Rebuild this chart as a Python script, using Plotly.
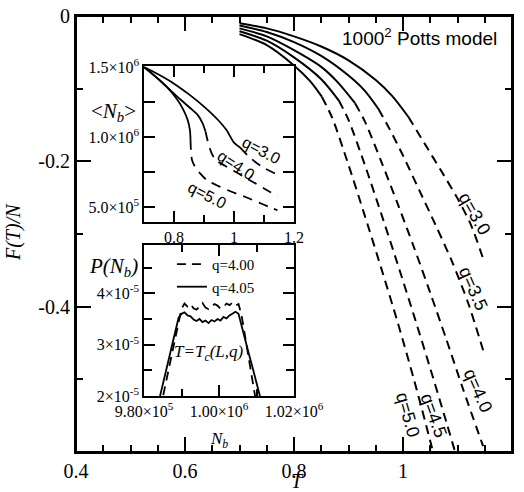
import plotly.graph_objects as go

# ---------------- main panel: F(T)/N vs T ----------------
q_labels_main = ["q=3.0", "q=3.5", "q=4.0", "q=4.5", "q=5.0"]

T_q30_solid = [0.70, 0.75, 0.80, 0.85, 0.90, 0.95, 0.98, 1.01]
F_q30_solid = [-0.010, -0.017, -0.028, -0.042, -0.061, -0.088, -0.110, -0.139]
T_q30_dash = [1.01, 1.04, 1.07, 1.10, 1.125, 1.147]
F_q30_dash = [-0.139, -0.176, -0.213, -0.251, -0.288, -0.334]

T_q35_solid = [0.70, 0.75, 0.80, 0.85, 0.90, 0.93, 0.955]
F_q35_solid = [-0.013, -0.022, -0.036, -0.055, -0.082, -0.103, -0.128]
T_q35_dash = [0.955, 0.975, 1.00, 1.03, 1.06, 1.09, 1.12, 1.147]
F_q35_dash = [-0.128, -0.155, -0.192, -0.240, -0.288, -0.338, -0.396, -0.460]

T_q40_solid = [0.70, 0.75, 0.80, 0.85, 0.88, 0.912]
F_q40_solid = [-0.017, -0.028, -0.047, -0.070, -0.091, -0.120]
T_q40_dash = [0.912, 0.93, 0.96, 0.99, 1.02, 1.05, 1.08, 1.11, 1.147]
F_q40_dash = [-0.120, -0.145, -0.200, -0.258, -0.318, -0.381, -0.446, -0.513, -0.592]

T_q45_solid = [0.70, 0.75, 0.80, 0.85, 0.882]
F_q45_solid = [-0.021, -0.034, -0.057, -0.087, -0.116]
T_q45_dash = [0.882, 0.90, 0.93, 0.96, 0.99, 1.02, 1.05, 1.08, 1.11]
F_q45_dash = [-0.116, -0.143, -0.205, -0.272, -0.341, -0.412, -0.485, -0.560, -0.637]

T_q50_solid = [0.70, 0.75, 0.80, 0.83, 0.851]
F_q50_solid = [-0.025, -0.040, -0.068, -0.090, -0.111]
T_q50_dash = [0.851, 0.87, 0.90, 0.93, 0.96, 0.99, 1.02, 1.05, 1.07]
F_q50_dash = [-0.111, -0.140, -0.205, -0.275, -0.347, -0.421, -0.500, -0.585, -0.645]

# label anchor points (T, F) and angles
label_T_main = [1.132, 1.130, 1.138, 1.057, 1.009]
label_F_main = [-0.272, -0.375, -0.516, -0.550, -0.549]
label_ang_main = [60, 66, 66, 70, 74]

# main-axis ticks
T_major = [0.4, 0.6, 0.8, 1.0, 1.2]
T_major_text = ["0.4", "0.6", "0.8", "1", "1.2"]
T_minor = [0.45, 0.5, 0.55, 0.65, 0.7, 0.75, 0.85, 0.9, 0.95, 1.05, 1.1, 1.15]
F_major = [0, -0.2, -0.4, -0.6]
F_major_text = ["0", "-0.2", "-0.4", ""]
F_minor = [-0.1, -0.3, -0.5]

# ---------------- inset 1: <N_b> vs T ----------------
q_labels_in1 = ["q=3.0", "q=4.0", "q=5.0"]

Ti_q30_solid = [0.70, 0.75, 0.80, 0.85, 0.90, 0.95, 0.975, 1.00, 1.02]
Nb_q30_solid = [1.500e6, 1.445e6, 1.382e6, 1.305e6, 1.218e6, 1.115e6, 1.050e6, 0.960e6, 0.926e6]
Ti_q30_dash = [1.02, 1.045, 1.07, 1.10, 1.125, 1.145]
Nb_q30_dash = [0.926e6, 0.870e6, 0.824e6, 0.780e6, 0.752e6, 0.733e6]

Ti_q40_solid = [0.70, 0.75, 0.80, 0.85, 0.88, 0.895, 0.905]
Nb_q40_solid = [1.500e6, 1.410e6, 1.310e6, 1.215e6, 1.155e6, 1.100e6, 1.040e6]
Ti_q40_dash = [0.905, 0.912, 0.92, 0.93, 0.945, 0.97, 1.00, 1.03, 1.06, 1.10, 1.145]
Nb_q40_dash = [1.040e6, 0.975e6, 0.915e6, 0.865e6, 0.828e6, 0.795e6, 0.758e6, 0.720e6, 0.683e6, 0.633e6, 0.577e6]

Ti_q50_solid = [0.70, 0.74, 0.78, 0.81, 0.83, 0.845, 0.853, 0.855]
Nb_q50_solid = [1.500e6, 1.430e6, 1.350e6, 1.270e6, 1.200e6, 1.125e6, 1.050e6, 0.980e6]
Ti_q50_dash = [0.855, 0.856, 0.860, 0.870, 0.887, 0.909, 0.95, 0.992, 1.04, 1.09, 1.145]
Nb_q50_dash = [0.980e6, 0.921e6, 0.836e6, 0.788e6, 0.741e6, 0.693e6, 0.648e6, 0.609e6, 0.570e6, 0.525e6, 0.477e6]

label_T_in1 = [1.092, 1.009, 0.912]
label_N_in1 = [0.904e6, 0.800e6, 0.586e6]
label_ang_in1 = [28, 33, 27]

# ---------------- inset 2: P(N_b) histograms ----------------
Nb_q400 = [984300, 985100, 986500, 987800, 989000, 990000, 990800, 991600, 992400, 993200,
           994000, 994800, 995600, 996400, 997200, 998000, 998800, 999600, 1000400, 1001200,
           1002000, 1002800, 1003600, 1004400, 1005200, 1006000, 1006600, 1007400, 1008300,
           1009200, 1010100]
P_q400 = [1.73e-5, 2.01e-5, 2.51e-5, 2.97e-5, 3.40e-5, 3.70e-5, 3.80e-5, 3.74e-5, 3.79e-5, 3.71e-5,
          3.68e-5, 3.75e-5, 3.81e-5, 3.72e-5, 3.69e-5, 3.74e-5, 3.79e-5, 3.76e-5, 3.70e-5, 3.73e-5,
          3.80e-5, 3.77e-5, 3.82e-5, 3.76e-5, 3.79e-5, 3.58e-5, 3.30e-5, 2.95e-5, 2.57e-5,
          2.18e-5, 1.80e-5]

Nb_q405 = [983500, 984500, 985800, 987000, 988200, 989200, 990000, 990800, 991600, 992400,
           993200, 994000, 994800, 995600, 996400, 997200, 998000, 998800, 999600, 1000400,
           1001200, 1002000, 1002800, 1003600, 1004400, 1005200, 1006000, 1007000, 1008000,
           1009000, 1010000, 1011000, 1011800]
P_q405 = [1.76e-5, 2.08e-5, 2.48e-5, 2.86e-5, 3.24e-5, 3.52e-5, 3.60e-5, 3.63e-5, 3.57e-5, 3.55e-5,
          3.49e-5, 3.46e-5, 3.50e-5, 3.44e-5, 3.47e-5, 3.42e-5, 3.48e-5, 3.45e-5, 3.50e-5, 3.47e-5,
          3.54e-5, 3.51e-5, 3.57e-5, 3.60e-5, 3.64e-5, 3.60e-5, 3.36e-5, 3.09e-5, 2.81e-5,
          2.54e-5, 2.26e-5, 1.98e-5, 1.75e-5]

# ---------------- figure ----------------
SERIF = "Liberation Serif"
SANS = "Liberation Sans"
fig = go.Figure()

def curve(x, y, dash, xa="x", ya="y", w=2.0, shape="spline", name=None, show=False):
    fig.add_trace(go.Scatter(
        x=x, y=y, mode="lines", xaxis=xa, yaxis=ya, name=name, showlegend=show,
        line=dict(color="black", width=w, dash=dash, shape=shape, smoothing=0.8),
        hoverinfo="skip"))

main_sets = [(T_q30_solid, F_q30_solid, T_q30_dash, F_q30_dash),
             (T_q35_solid, F_q35_solid, T_q35_dash, F_q35_dash),
             (T_q40_solid, F_q40_solid, T_q40_dash, F_q40_dash),
             (T_q45_solid, F_q45_solid, T_q45_dash, F_q45_dash),
             (T_q50_solid, F_q50_solid, T_q50_dash, F_q50_dash)]
for ts, fs, td, fd in main_sets:
    curve(ts, fs, "solid")
    curve(td, fd, "9px,6px")

in1_sets = [(Ti_q30_solid, Nb_q30_solid, Ti_q30_dash, Nb_q30_dash),
            (Ti_q40_solid, Nb_q40_solid, Ti_q40_dash, Nb_q40_dash),
            (Ti_q50_solid, Nb_q50_solid, Ti_q50_dash, Nb_q50_dash)]
for ts, ns, td, nd in in1_sets:
    curve(ts, ns, "solid", "x2", "y2", 1.8)
    curve(td, nd, "10px,7px", "x2", "y2", 1.8)

curve(Nb_q400, P_q400, "9px,6px", "x3", "y3", 1.8, "linear", "q=4.00", True)
curve(Nb_q405, P_q405, "solid", "x3", "y3", 1.8, "linear", "q=4.05", True)

# empty trace so the top/right frame axes of the main panel get drawn
fig.add_trace(go.Scatter(x=[], y=[], xaxis="x4", yaxis="y4", showlegend=False, hoverinfo="skip"))

def axis_common(w, tl, size, mirror="ticks"):
    return dict(showgrid=False, zeroline=False, ticks="inside", ticklen=tl, tickwidth=w,
                linewidth=w, linecolor="black", mirror=mirror, tickcolor="black",
                showline=True, tickfont=dict(family=SERIF, size=size, color="black"),
                tickmode="array", automargin=False)

main_minor_x = dict(tickvals=T_minor, ticklen=7, tickwidth=2, ticks="inside", tickcolor="black")
main_minor_y = dict(tickvals=F_minor, ticklen=7, tickwidth=2, ticks="inside", tickcolor="black")

xa = axis_common(2, 15, 20)
xa.update(domain=[0, 1], anchor="y", range=[0.4, 1.2],
          tickvals=T_major, ticktext=T_major_text, minor=main_minor_x)
ya = axis_common(2, 15, 20)
ya.update(domain=[0, 1], anchor="x", range=[-0.6, 0],
          tickvals=F_major, ticktext=F_major_text, minor=main_minor_y)

# explicit top and right frame axes (ticks pointing inward, no labels)
x4 = axis_common(2, 15, 20, mirror=False)
x4.update(overlaying="x", side="top", anchor="y", range=[0.4, 1.2],
          tickvals=T_major, showticklabels=False, minor=main_minor_x)
y4 = axis_common(2, 15, 20, mirror=False)
y4.update(overlaying="y", side="right", anchor="x", range=[-0.6, 0],
          tickvals=F_major, showticklabels=False, minor=main_minor_y)

x2 = axis_common(1.5, 11, 16)
x2.update(domain=[0.156, 0.5], anchor="y2", range=[0.7, 1.2],
          tickvals=[0.8, 1.0, 1.2], ticktext=["0.8", "1", "1.2"],
          minor=dict(tickvals=[0.9, 1.1], ticklen=7, tickwidth=1.5, ticks="inside", tickcolor="black"))
y2 = axis_common(1.5, 11, 16)
y2.update(domain=[0.5275, 0.885], anchor="x2", range=[3.93e5, 1.507e6],
          tickvals=[5e5, 1e6, 1.5e6],
          ticktext=["5.0×10<sup>5</sup>", "1.0×10<sup>6</sup>", "1.5×10<sup>6</sup>"],
          minor=dict(tickvals=[7.5e5, 1.25e6], ticklen=11, tickwidth=1.5, ticks="inside", tickcolor="black"))

x3 = axis_common(1.5, 11, 16)
x3.update(domain=[0.156, 0.5], anchor="y3", range=[9.8e5, 1.02e6],
          tickvals=[9.8e5, 1.0e6, 1.02e6],
          ticktext=["9.80×10<sup>5</sup>", "1.00×10<sup>6</sup>", "1.02×10<sup>6</sup>"],
          minor=dict(tickvals=[9.9e5, 1.01e6], ticklen=7, tickwidth=1.5, ticks="inside", tickcolor="black"))
y3 = axis_common(1.5, 11, 16)
y3.update(domain=[0.1284, 0.4748], anchor="x3", range=[2e-5, 4.94e-5],
          tickvals=[2e-5, 3e-5, 4e-5],
          ticktext=["2×10<sup>-5</sup>", "3×10<sup>-5</sup>", "4×10<sup>-5</sup>"],
          minor=dict(tickvals=[2.5e-5, 3.5e-5, 4.5e-5], ticklen=8, tickwidth=1.5, ticks="inside", tickcolor="black"))

annotations = []
for t, f, a, s in zip(label_T_main, label_F_main, label_ang_main, q_labels_main):
    annotations.append(dict(x=t, y=f, xref="x", yref="y", text=s, textangle=a, showarrow=False,
                            font=dict(family=SANS, size=18, color="black")))
for t, n, a, s in zip(label_T_in1, label_N_in1, label_ang_in1, q_labels_in1):
    annotations.append(dict(x=t, y=n, xref="x2", yref="y2", text=s, textangle=a, showarrow=False,
                            font=dict(family=SANS, size=16, color="black")))

def ptext(x, y, text, size, family=SERIF, angle=0):
    annotations.append(dict(x=x, y=y, xref="paper", yref="paper", text=text, showarrow=False,
                            textangle=angle, xanchor="center", yanchor="middle",
                            font=dict(family=family, size=size, color="black")))

ptext(0.787, 0.952, "1000<sup>2</sup> Potts model", 19, SANS)
ptext(0.087, 0.780, "&lt;<i>N<sub>b</sub></i>&gt;", 21)
ptext(0.085, 0.424, "<i>P(N<sub>b</sub>)</i>", 21)
ptext(0.328, 0.0275, "<i>N<sub>b</sub></i>", 17)
ptext(0.305, 0.227, "<i>T=T<sub>c</sub>(L,q)</i>", 17)
ptext(-0.142, 0.505, "<i>F(T)/N</i>", 20, angle=-90)
ptext(0.507, -0.066, "<i>T</i>", 20)

fig.update_layout(
    width=524, height=492,
    margin=dict(l=76, r=12, t=16, b=40, autoexpand=False),
    paper_bgcolor="white", plot_bgcolor="white",
    font=dict(family=SERIF, color="black"),
    xaxis=xa, yaxis=ya, xaxis2=x2, yaxis2=y2, xaxis3=x3, yaxis3=y3,
    xaxis4=x4, yaxis4=y4,
    annotations=annotations,
    shapes=[dict(type="rect", xref="paper", yref="paper", x0=0, x1=1, y0=0, y1=1,
                 line=dict(color="black", width=2), fillcolor="rgba(0,0,0,0)", layer="above")],
    legend=dict(x=0.220, y=0.468, xanchor="left", yanchor="top", bgcolor="rgba(0,0,0,0)",
                font=dict(family=SERIF, size=15, color="black"), itemwidth=30,
                tracegroupgap=0),
)

# remove the page's default body margin so the 524x492 figure fills the window exactly
fig.write_html("out.html",
               config={"displayModeBar": False},
               post_script="document.body.style.margin='0px';"
                           "document.documentElement.style.overflow='hidden';")
